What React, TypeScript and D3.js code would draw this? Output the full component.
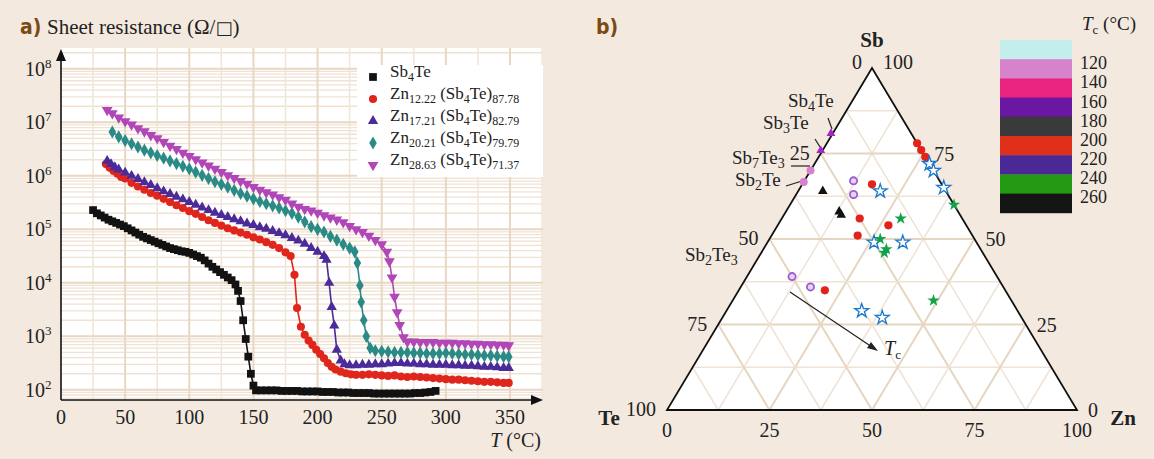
import React from 'react';
import * as d3 from 'd3';

// ---------- Panel a data: [T (°C), log10(R / Ω□)] ----------
const tempTicks = [0, 50, 100, 150, 200, 250, 300, 350];
const decadeTicks = [2, 3, 4, 5, 6, 7, 8];

const sb4teData: [number, number][] = [
  [25, 5.36], [28, 5.3], [31, 5.26], [34, 5.22], [37, 5.18], [40, 5.15], [43, 5.12], [46, 5.09], [49, 5.06],
  [52, 5.02], [55, 4.98], [58, 4.94], [61, 4.9], [64, 4.86], [67, 4.83], [70, 4.8], [73, 4.77], [76, 4.74],
  [79, 4.71], [82, 4.68], [85, 4.65], [88, 4.63], [91, 4.61], [94, 4.59], [97, 4.58], [100, 4.56], [103, 4.53],
  [106, 4.5], [109, 4.47], [112, 4.42], [115, 4.36], [118, 4.3], [121, 4.25], [124, 4.2], [127, 4.15],
  [130, 4.1], [133, 4.05], [136, 3.97], [138, 3.85], [140, 3.66], [142, 3.3], [144, 2.95], [146, 2.62],
  [148, 2.3], [150, 2.08], [152, 1.99], [156, 1.99], [160, 1.99], [164, 1.99], [168, 1.99], [172, 1.98],
  [176, 1.98], [180, 1.98], [184, 1.98], [188, 1.97], [192, 1.97], [196, 1.97], [200, 1.97], [204, 1.96],
  [208, 1.96], [212, 1.96], [216, 1.95], [220, 1.95], [224, 1.95], [228, 1.94], [232, 1.94], [236, 1.94],
  [240, 1.94], [244, 1.93], [248, 1.93], [252, 1.93], [256, 1.93], [260, 1.93], [264, 1.93], [268, 1.93],
  [272, 1.93], [276, 1.94], [280, 1.94], [284, 1.95], [288, 1.96], [292, 1.98],
];
const zn12Data: [number, number][] = [
  [35, 6.22], [38, 6.15], [41, 6.09], [44, 6.04], [47, 5.98], [50, 5.95], [55, 5.87], [60, 5.8], [65, 5.74],
  [70, 5.68], [75, 5.63], [80, 5.57], [85, 5.51], [90, 5.45], [95, 5.4], [100, 5.34], [105, 5.29], [110, 5.23],
  [115, 5.17], [120, 5.12], [125, 5.07], [130, 5.02], [135, 4.98], [140, 4.94], [145, 4.9], [150, 4.85],
  [155, 4.81], [160, 4.76], [165, 4.71], [170, 4.65], [175, 4.57], [179, 4.5], [182, 4.15], [184, 3.53],
  [187, 3.18], [190, 3.03], [193, 2.92], [196, 2.84], [199, 2.75], [202, 2.67], [205, 2.59], [208, 2.5],
  [211, 2.43], [214, 2.38], [218, 2.34], [222, 2.31], [226, 2.29], [230, 2.28], [235, 2.28], [240, 2.29],
  [245, 2.28], [250, 2.27], [255, 2.26], [260, 2.27], [265, 2.25], [270, 2.24], [275, 2.25], [280, 2.24],
  [285, 2.23], [290, 2.22], [295, 2.21], [300, 2.2], [305, 2.19], [310, 2.19], [315, 2.18], [320, 2.17],
  [325, 2.16], [330, 2.15], [335, 2.15], [340, 2.14], [345, 2.13], [349, 2.13],
];
const zn17Data: [number, number][] = [
  [36, 6.28], [39, 6.22], [42, 6.16], [45, 6.12], [50, 6.06], [55, 6.0], [60, 5.94], [65, 5.88], [70, 5.83],
  [75, 5.77], [80, 5.71], [85, 5.66], [90, 5.61], [95, 5.56], [100, 5.51], [105, 5.46], [110, 5.41], [115, 5.36],
  [120, 5.31], [125, 5.27], [130, 5.23], [135, 5.19], [140, 5.15], [145, 5.11], [150, 5.08], [155, 5.04],
  [160, 5.01], [165, 4.97], [170, 4.93], [175, 4.89], [180, 4.84], [185, 4.79], [190, 4.73], [195, 4.65],
  [200, 4.58], [205, 4.5], [207, 4.43], [209, 4.0], [211, 3.55], [213, 3.2], [215, 2.75], [218, 2.55],
  [221, 2.48], [225, 2.46], [230, 2.46], [235, 2.47], [240, 2.47], [245, 2.48], [250, 2.48], [255, 2.49],
  [260, 2.5], [265, 2.5], [270, 2.49], [275, 2.49], [280, 2.48], [285, 2.48], [290, 2.47], [295, 2.47],
  [300, 2.47], [305, 2.46], [310, 2.46], [315, 2.45], [320, 2.45], [325, 2.44], [330, 2.43], [335, 2.43],
  [340, 2.42], [345, 2.41], [349, 2.41],
];
const zn20Data: [number, number][] = [
  [40, 6.82], [45, 6.73], [50, 6.66], [55, 6.6], [60, 6.54], [65, 6.48], [70, 6.43], [75, 6.38], [80, 6.33],
  [85, 6.28], [90, 6.23], [95, 6.18], [100, 6.13], [105, 6.07], [110, 6.01], [115, 5.95], [120, 5.89],
  [125, 5.84], [130, 5.79], [135, 5.73], [140, 5.67], [145, 5.62], [150, 5.57], [155, 5.52], [160, 5.48],
  [165, 5.44], [170, 5.4], [175, 5.35], [180, 5.3], [185, 5.23], [190, 5.14], [195, 5.05], [200, 5.0],
  [205, 4.95], [210, 4.87], [215, 4.8], [220, 4.72], [225, 4.65], [229, 4.58], [231, 4.37], [233, 3.95],
  [234, 3.64], [236, 3.3], [238, 3.0], [241, 2.78], [245, 2.73], [250, 2.72], [255, 2.71], [260, 2.7],
  [265, 2.7], [270, 2.7], [275, 2.69], [280, 2.69], [285, 2.68], [290, 2.68], [295, 2.68], [300, 2.69],
  [305, 2.68], [310, 2.67], [315, 2.66], [320, 2.66], [325, 2.65], [330, 2.64], [335, 2.64], [340, 2.63],
  [345, 2.62], [349, 2.62],
];
const zn28Data: [number, number][] = [
  [36, 7.23], [40, 7.17], [45, 7.09], [50, 7.02], [55, 6.96], [60, 6.89], [65, 6.83], [70, 6.76], [75, 6.7],
  [80, 6.63], [85, 6.56], [90, 6.5], [95, 6.43], [100, 6.37], [105, 6.31], [110, 6.25], [115, 6.19],
  [120, 6.13], [125, 6.07], [130, 6.01], [135, 5.96], [140, 5.9], [145, 5.85], [150, 5.79], [155, 5.74],
  [160, 5.69], [165, 5.65], [170, 5.6], [175, 5.55], [180, 5.48], [185, 5.42], [190, 5.38], [195, 5.35],
  [200, 5.31], [205, 5.26], [210, 5.22], [215, 5.18], [220, 5.13], [225, 5.06], [230, 5.0], [235, 4.95],
  [240, 4.88], [245, 4.8], [250, 4.72], [254, 4.58], [256, 4.4], [258, 4.1], [260, 3.74], [262, 3.45],
  [264, 3.21], [267, 2.98], [270, 2.9], [275, 2.9], [280, 2.89], [285, 2.89], [290, 2.89], [295, 2.88],
  [300, 2.88], [305, 2.88], [310, 2.87], [315, 2.87], [320, 2.86], [325, 2.86], [330, 2.85], [335, 2.85],
  [340, 2.84], [345, 2.84], [349, 2.83],
];

// ---------- Panel b data: [Zn %, Sb %] ----------
const namedPhases: [number, number][] = [[0, 80], [0, 75]]; // Sb4Te, Sb3Te (triangles)
const namedCircles: [number, number][] = [[0, 70], [0, 66.7]]; // Sb7Te3, Sb2Te
const ringPoints: [number, number][] = [[12, 67], [14, 63], [11, 39], [17, 36]];
const redPoints: [number, number][] = [[17, 66], [19, 56], [27, 54], [21, 51], [21, 35], [22, 78], [24, 76], [26, 74]];
const blackTriPoints: [number, number][] = [[6, 64], [13, 58], [14, 57]];
const blueStarPoints: [number, number][] = [[20, 64], [28, 72], [30, 70], [35, 65], [26, 49], [33, 49], [33, 29], [39, 27]];
const greenStarPoints: [number, number][] = [[40, 60], [29, 56], [27, 50], [30, 47], [30, 46], [49, 32]];
const ternTicks = [0, 25, 50, 75, 100];

const tcLabels = ['120', '140', '160', '180', '200', '220', '240', '260'];
const tcColors = ['#c3eeec', '#d783cc', '#e8247f', '#6a17a2', '#3a3a3a', '#e0301a', '#4a2996', '#249a12', '#151515'];

const BG = '#f3e9df';
const SERIF = '"Liberation Serif", "Times New Roman", serif';
const SANS_B = '"Liberation Sans Narrow", "DejaVu Sans Condensed", "Liberation Sans", sans-serif';

type Part = [string, boolean, boolean?]; // [text, isSubscript, italic]

// Renders text parts with subscripts; every tspan carries real text.
function Parts({ parts, subSize, shift = 4 }: { parts: Part[]; subSize: number; shift?: number }) {
  let level = 0;
  return (
    <>
      {parts.map(([t, sub, it], i) => {
        const target = sub ? shift : 0;
        const dy = target - level;
        level = target;
        return (
          <tspan key={i} dy={dy} fontSize={sub ? subSize : undefined} fontStyle={it ? 'italic' : undefined}>{t}</tspan>
        );
      })}
    </>
  );
}

const legendParts: Part[][] = [
  [['Sb', false], ['4', true], ['Te', false]],
  [['Zn', false], ['12.22', true], [' (Sb', false], ['4', true], ['Te)', false], ['87.78', true]],
  [['Zn', false], ['17.21', true], [' (Sb', false], ['4', true], ['Te)', false], ['82.79', true]],
  [['Zn', false], ['20.21', true], [' (Sb', false], ['4', true], ['Te)', false], ['79.79', true]],
  [['Zn', false], ['28.63', true], [' (Sb', false], ['4', true], ['Te)', false], ['71.37', true]],
];

const series = [
  { key: 'sb4te', data: sb4teData, color: '#121212', sym: d3.symbolSquare, size: 60, rot: 0 },
  { key: 'zn12', data: zn12Data, color: '#e0261c', sym: d3.symbolCircle, size: 52, rot: 0 },
  { key: 'zn17', data: zn17Data, color: '#4b2a9a', sym: d3.symbolTriangle, size: 46, rot: 0 },
  { key: 'zn20', data: zn20Data, color: '#2a8a85', sym: d3.symbolDiamond, size: 50, rot: 0 },
  { key: 'zn28', data: zn28Data, color: '#b046b8', sym: d3.symbolTriangle, size: 50, rot: 180 },
];

function PanelA() {
  const x = d3.scaleLinear().domain([0, 350]).range([61, 510]);
  const y = d3.scaleLog().domain([10 ** 1.81, 10 ** 8.39]).range([400, 48]);
  const xMaxPx = 543;
  const minorT = d3.range(25, 376, 50);
  const horizMinor: number[] = [];
  for (let d = 1; d <= 8; d++) for (let m = 2; m <= 9; m++) {
    const v = m * 10 ** d;
    if (v > 10 ** 1.81 && v < 10 ** 8.39) horizMinor.push(v);
  }
  const line = d3.line<[number, number]>().x((d) => x(d[0])).y((d) => y(10 ** d[1]));
  const txt = { fontFamily: SERIF, fill: '#222' } as const;
  return (
    <g>
      <rect x={61} y={48} width={xMaxPx - 61} height={352} fill="#fff" />
      {horizMinor.map((v, i) => (
        <line key={'hm' + i} x1={61} x2={xMaxPx} y1={y(v)} y2={y(v)} stroke="#efe2d3" strokeWidth={1.3} />
      ))}
      {minorT.map((t) => (
        <line key={'vm' + t} x1={x(t)} x2={x(t)} y1={48} y2={400} stroke="#f0e5d8" strokeWidth={1.5} />
      ))}
      {tempTicks.slice(1).map((t) => (
        <line key={'vM' + t} x1={x(t)} x2={x(t)} y1={48} y2={400} stroke="#e8d7c2" strokeWidth={2} />
      ))}
      {decadeTicks.map((d) => (
        <line key={'hM' + d} x1={61} x2={xMaxPx} y1={y(10 ** d)} y2={y(10 ** d)} stroke="#e8d7c2" strokeWidth={2} />
      ))}
      {series.map((s) => (
        <g key={s.key}>
          <path d={line(s.data) || ''} fill="none" stroke={s.color} strokeWidth={1.6} />
          {s.data.map((d, i) => (
            <path key={i} d={d3.symbol(s.sym, s.size)() || ''}
              transform={`translate(${x(d[0])},${y(10 ** d[1])}) rotate(${s.rot})`} fill={s.color} />
          ))}
        </g>
      ))}
      {/* legend */}
      <rect x={357} y={65} width={186} height={112} fill="#fff" />
      {series.map((s, i) => (
        <g key={'lg' + s.key}>
          <path d={d3.symbol(s.sym, s.size)() || ''} transform={`translate(373,${77 + i * 22}) rotate(${s.rot})`} fill={s.color} />
          <text x={390} y={77 + i * 22} dy="0.35em" fontSize={17} {...txt}>
            <Parts parts={legendParts[i]} subSize={12} />
          </text>
        </g>
      ))}
      {/* axes */}
      <line x1={61} x2={532} y1={400} y2={400} stroke="#111" strokeWidth={1.6} />
      <path d="M531,395 L543,400 L531,405 Z" fill="#111" />
      <line x1={61} x2={61} y1={400} y2={60} stroke="#111" strokeWidth={1.6} />
      <path d="M56,61 L61,49 L66,61 Z" fill="#111" />
      {tempTicks.map((t) => (
        <text key={'xt' + t} x={x(t)} y={417} dy="0.35em" textAnchor="middle" fontSize={20} {...txt}>{t}</text>
      ))}
      {decadeTicks.map((d) => (
        <text key={'yt' + d} x={25} y={y(10 ** d)} dy="0.35em" textAnchor="start" fontSize={20} {...txt}>
          10<tspan fontSize={13} dy={-8}>{d}</tspan>
        </text>
      ))}
      <text x={541} y={440} dy="0.35em" textAnchor="end" fontSize={20} {...txt}>
        <tspan fontStyle="italic">T</tspan> (°C)
      </text>
      <text x={20} y={27} dy="0.35em" fontFamily={SANS_B} fontWeight="bold" fontSize={21} fill="#7a4a12">a)</text>
      <text x={47} y={27} dy="0.35em" fontSize={21} {...txt}>
        Sheet resistance (Ω/<tspan fontFamily='"DejaVu Sans", sans-serif' fontSize={18}>□</tspan>)
      </text>
    </g>
  );
}

function PanelB() {
  const xz = d3.scaleLinear().domain([0, 100]).range([667, 1077]);
  const ys = d3.scaleLinear().domain([0, 100]).range([410, 68]);
  const P = (zn: number, sb: number): [number, number] => [xz(zn) + (xz(sb) - xz(0)) / 2, ys(sb)];
  const steps = d3.range(12.5, 100, 12.5);
  const gridLines: { a: [number, number]; b: [number, number]; major: boolean }[] = [];
  steps.forEach((k) => {
    const major = k % 25 === 0;
    gridLines.push({ a: P(0, k), b: P(100 - k, k), major });
    gridLines.push({ a: P(k, 0), b: P(k, 100 - k), major });
    gridLines.push({ a: P(100 - k, 0), b: P(0, 100 - k), major });
  });
  const tri = [P(0, 0), P(100, 0), P(0, 100)];
  const sym = (t: d3.SymbolType, s: number) => d3.symbol(t, s)() || '';
  const lbl = { fontFamily: SERIF, fontSize: 20, fill: '#222' } as const;
  const phase = { fontFamily: SERIF, fontSize: 19, fill: '#222' } as const;
  return (
    <g>
      <path d={`M${tri.map((p) => p.join(',')).join('L')}Z`} fill="#fff" />
      {gridLines.map((g, i) => (
        <line key={'g' + i} x1={g.a[0]} y1={g.a[1]} x2={g.b[0]} y2={g.b[1]}
          stroke={g.major ? '#e6d5c0' : '#efe3d6'} strokeWidth={g.major ? 2 : 1.5} />
      ))}
      <path d={`M${tri.map((p) => p.join(',')).join('L')}Z`} fill="none" stroke="#111" strokeWidth={1.8} strokeLinejoin="miter" />
      {/* leader lines */}
      <line x1={828} y1={118} x2={832} y2={129} stroke="#222" strokeWidth={1.2} />
      <line x1={815} y1={139} x2={820} y2={147} stroke="#222" strokeWidth={1.2} />
      <line x1={791} y1={166} x2={810} y2={166} stroke="#222" strokeWidth={1.2} />
      <line x1={786} y1={186} x2={802} y2={181} stroke="#222" strokeWidth={1.2} />
      {/* Tc arrow */}
      <line x1={790} y1={292} x2={872} y2={347} stroke="#222" strokeWidth={1.2} />
      <path d="M878,351 L867,348 L871,342 Z" fill="#222" />
      <text x={884} y={355} dy="0.35em" {...lbl}>
        <Parts parts={[['T', false, true], ['c', true]]} subSize={13} />
      </text>
      {/* points */}
      {namedPhases.map((d, i) => {
        const [px, py] = P(d[0], d[1]);
        return <path key={'np' + i} d={sym(d3.symbolTriangle, 34)} transform={`translate(${px},${py - 3})`} fill="#a526c2" />;
      })}
      {namedCircles.map((d, i) => {
        const [px, py] = P(d[0], d[1]);
        return <circle key={'nc' + i} cx={px} cy={py} r={4} fill="#d880d0" />;
      })}
      {ringPoints.map((d, i) => {
        const [px, py] = P(d[0], d[1]);
        return <circle key={'rp' + i} cx={px} cy={py} r={3.6} fill="#e6d3f3" stroke="#9b5cd0" strokeWidth={1.8} />;
      })}
      {redPoints.map((d, i) => {
        const [px, py] = P(d[0], d[1]);
        return <circle key={'rd' + i} cx={px} cy={py} r={4.1} fill="#e2231a" />;
      })}
      {blackTriPoints.map((d, i) => {
        const [px, py] = P(d[0], d[1]);
        return <path key={'bt' + i} d={sym(d3.symbolTriangle, 40)} transform={`translate(${px},${py})`} fill="#111" />;
      })}
      {blueStarPoints.map((d, i) => {
        const [px, py] = P(d[0], d[1]);
        return <path key={'bs' + i} d={sym(d3.symbolStar, 60)} transform={`translate(${px},${py})`} fill="#fff" stroke="#1a78cc" strokeWidth={1.3} />;
      })}
      {greenStarPoints.map((d, i) => {
        const [px, py] = P(d[0], d[1]);
        return <path key={'gs' + i} d={sym(d3.symbolStar, 48)} transform={`translate(${px},${py})`} fill="#12a24a" />;
      })}
      {/* phase labels */}
      <text x={788} y={107} dy="0.35em" {...phase}><Parts parts={[['Sb', false], ['4', true], ['Te', false]]} subSize={14} /></text>
      <text x={763} y={129} dy="0.35em" {...phase}><Parts parts={[['Sb', false], ['3', true], ['Te', false]]} subSize={14} /></text>
      <text x={732} y={164} dy="0.35em" {...phase}><Parts parts={[['Sb', false], ['7', true], ['Te', false], ['3', true]]} subSize={14} /></text>
      <text x={735} y={186} dy="0.35em" {...phase}><Parts parts={[['Sb', false], ['2', true], ['Te', false]]} subSize={14} /></text>
      <text x={685} y={261} dy="0.35em" {...phase}><Parts parts={[['Sb', false], ['2', true], ['Te', false], ['3', true]]} subSize={14} /></text>
      {/* left side: Te % */}
      {ternTicks.map((v) => {
        const [px, py] = P(0, 100 - v);
        return <text key={'lt' + v} x={v === 0 ? px - 10 : px - 11} y={v === 0 ? py - 6 : py - 1} dy="0.35em" textAnchor="end" {...lbl}>{v}</text>;
      })}
      {/* right side: Sb % */}
      {ternTicks.map((v) => {
        const [px, py] = P(100 - v, v);
        return <text key={'rt' + v} x={px + 11} y={v === 100 ? py - 6 : py} dy="0.35em" textAnchor="start" {...lbl}>{v}</text>;
      })}
      {/* bottom: Zn % */}
      {ternTicks.map((v) => {
        const [px] = P(v, 0);
        return <text key={'bt' + v} x={px} y={430} dy="0.35em" textAnchor="middle" {...lbl}>{v}</text>;
      })}
      <text x={872} y={40} dy="0.35em" textAnchor="middle" fontFamily={SERIF} fontWeight="bold" fontSize={21} fill="#222">Sb</text>
      <text x={609} y={418} dy="0.35em" textAnchor="middle" fontFamily={SERIF} fontWeight="bold" fontSize={21} fill="#222">Te</text>
      <text x={1123} y={418} dy="0.35em" textAnchor="middle" fontFamily={SERIF} fontWeight="bold" fontSize={21} fill="#222">Zn</text>
      <text x={596} y={27} dy="0.35em" fontFamily={SANS_B} fontWeight="bold" fontSize={21} fill="#7a4a12">b)</text>
      {/* colour bar */}
      {tcColors.map((c, i) => (
        <rect key={'cb' + i} x={1000} y={40 + i * 19.2} width={72} height={19.6} fill={c} />
      ))}
      {tcLabels.map((t, i) => (
        <text key={'cl' + t} x={1080} y={63 + i * 19.1} dy="0.35em" fontFamily={SERIF} fontSize={18} fill="#222">{t}</text>
      ))}
      <text x={1082} y={30} dy="0.35em" fontFamily={SERIF} fontSize={19} fill="#222">
        <Parts parts={[['T', false, true], ['c', true], [' (°C)', false]]} subSize={13} />
      </text>
    </g>
  );
}

export default function App() {
  return (
    <div style={{ position: 'fixed', left: 0, top: 0 }}>
      <svg width={1154} height={459} viewBox="0 0 1154 459" style={{ display: 'block' }}>
        <rect x={0} y={0} width={1154} height={459} fill={BG} />
        <PanelA />
        <PanelB />
      </svg>
    </div>
  );
}
